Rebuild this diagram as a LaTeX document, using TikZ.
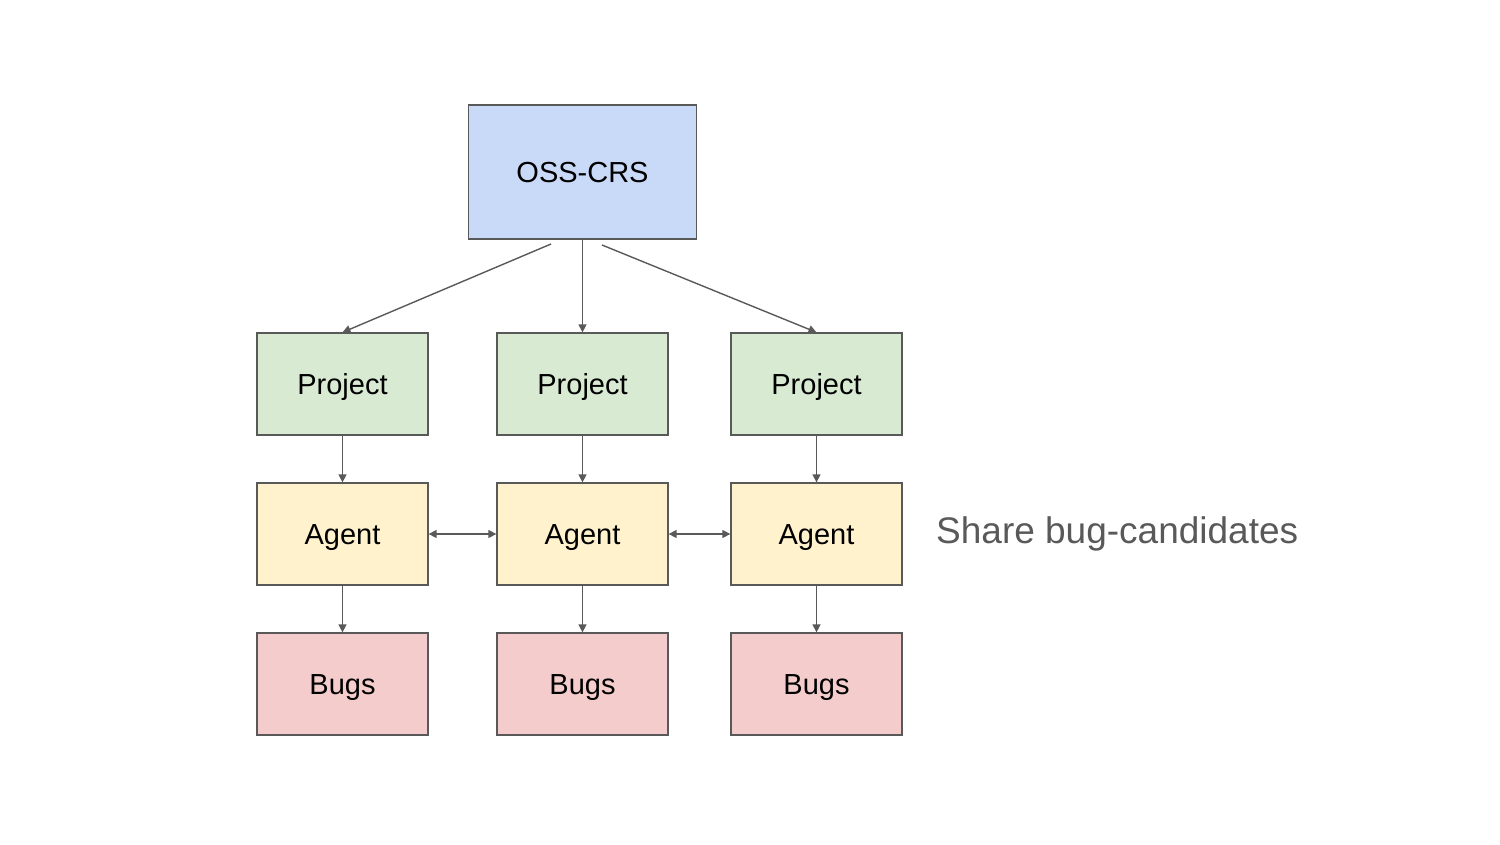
\documentclass[tikz,border=0pt]{standalone}
\usepackage{fontspec}
\setmainfont{Liberation Sans}
\usetikzlibrary{arrows.meta}
\definecolor{bdr}{HTML}{595959}
\definecolor{cblue}{HTML}{C9DAF8}
\definecolor{cgreen}{HTML}{D9EAD3}
\definecolor{cyellow}{HTML}{FFF2CC}
\definecolor{cred}{HTML}{F4CCCC}
\begin{document}
\begin{tikzpicture}[x=1pt,y=-1pt,
  box/.style={draw=bdr,line width=1.3pt,minimum width=171pt,minimum height=102pt,inner sep=0pt,font=\fontsize{29}{34}\selectfont,text=black,text height=21pt,text depth=0pt},
  conn/.style={draw=bdr,line width=1.4pt,-{Triangle[length=8pt,width=8pt]}},
  dconn/.style={draw=bdr,line width=1.4pt,{Triangle[length=8pt,width=8pt]}-{Triangle[length=8pt,width=8pt]}}]
\useasboundingbox (0,0) rectangle (1500,844);
\node[box,fill=cblue,minimum width=228pt,minimum height=134pt] (oss) at (582.5,172) {OSS-CRS};
\foreach \i/\x in {1/342.5,2/582.5,3/816.5}{
  \node[box,fill=cgreen] (p\i) at (\x,384) {Project};
  \node[box,fill=cyellow] (a\i) at (\x,534) {Agent};
  \node[box,fill=cred] (b\i) at (\x,684) {Bugs};
}
\coordinate (sl) at (551,244);
\coordinate (sr) at (602,245);
\draw[conn] (sl) -- (p1.north);
\draw[conn] (oss.south) -- (p2.north);
\draw[conn] (sr) -- (p3.north);
\foreach \i in {1,2,3}{
  \draw[conn] (p\i.south) -- (a\i.north);
  \draw[conn] (a\i.south) -- (b\i.north);
}
\draw[dconn] (a1.east) -- (a2.west);
\draw[dconn] (a2.east) -- (a3.west);
\node[anchor=west,inner sep=0pt,text=bdr,font=\fontsize{37}{44}\selectfont] (share) at (936,534) {Share bug-candidates};
\end{tikzpicture}
\end{document}
